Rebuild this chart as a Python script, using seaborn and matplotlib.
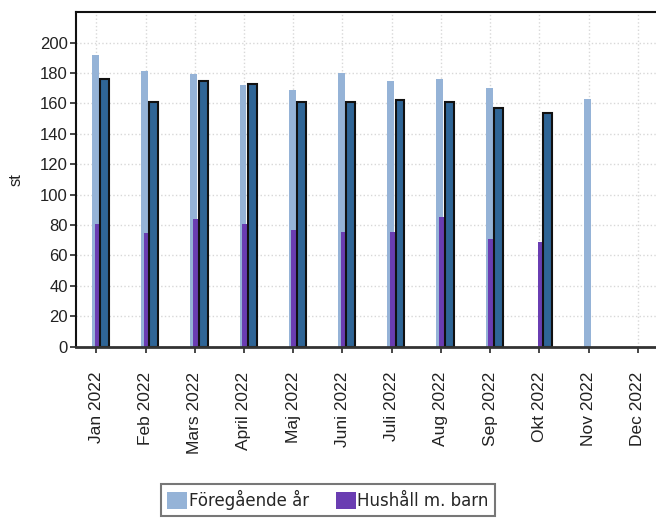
import numpy as np
import pandas as pd
import seaborn as sns
import matplotlib.pyplot as plt
from matplotlib.patches import Patch

months = ["Jan 2022", "Feb 2022", "Mars 2022", "April 2022", "Maj 2022", "Juni 2022",
          "Juli 2022", "Aug 2022", "Sep 2022", "Okt 2022", "Nov 2022", "Dec 2022"]
foregaende_ar = [192, 181, 179, 172, 169, 180, 175, 176, 170, np.nan, 163, np.nan]
totalt = [176, 161, 175, 173, 161, 161, 162, 161, 157, 153.5, np.nan, np.nan]
hushall_barn = [81, 74.5, 84, 81, 77, 75.5, 75.5, 85, 71, 69, np.nan, np.nan]

df = pd.DataFrame({"month": months, "prev": foregaende_ar,
                   "total": totalt, "barn": hushall_barn})
df["pos"] = np.arange(len(months))

sns.set_theme(style="ticks")
plt.rcParams['font.family'] = ['Liberation Sans', 'DejaVu Sans']

c_prev = "#95b3d7"
c_barn = "#6a3db2"
c_total = "#2f6596"

fig = plt.figure(figsize=(6.56, 5.27), dpi=100)
ax = fig.add_axes([0.116, 0.342, 0.884, 0.635])

# light blue (previous year), purple (households with children), dark (total)
sub = df.dropna(subset=["prev"])
sns.barplot(x=sub["pos"] - 0.02, y=sub["prev"], native_scale=True, width=0.14,
            color=c_prev, saturation=1, linewidth=0, ax=ax)
sub = df.dropna(subset=["barn"])
sns.barplot(x=sub["pos"] + 0.02, y=sub["barn"], native_scale=True, width=0.11,
            color=c_barn, saturation=1, linewidth=0, ax=ax)
sub = df.dropna(subset=["total"])
sns.barplot(x=sub["pos"] + 0.17, y=sub["total"], native_scale=True, width=0.18,
            color=c_total, saturation=1, edgecolor="#111111", linewidth=1.5, ax=ax)

ax.set_xlim(-0.41, 11.37)
ax.set_ylim(0, 220)
ax.set_yticks(range(0, 201, 20))
ax.set_xticks(df["pos"])
ax.set_xticklabels(months, rotation=90, fontsize=12.5, color="#222222")
ax.tick_params(axis="y", labelsize=12, labelcolor="#222222", length=4, width=1.2, pad=2)
ax.tick_params(axis="x", length=4, width=1.2, pad=14)
ax.set_xlabel("")
ax.set_ylabel("st", fontsize=12, color="#222222", labelpad=12)

ax.grid(True, linestyle=":", color="#d8d8d8", linewidth=1)
ax.set_axisbelow(True)
for side in ["left", "top"]:
    ax.spines[side].set_color("#111111")
    ax.spines[side].set_linewidth(1.5)
ax.spines["bottom"].set_color("#333333")
ax.spines["bottom"].set_linewidth(2)
ax.spines["right"].set_visible(False)

handles = [Patch(facecolor=c_prev, edgecolor="none"),
           Patch(facecolor=c_barn, edgecolor="none")]
leg = fig.legend(handles, ["Föregående år", "Hushåll m. barn"], loc="lower center",
                 bbox_to_anchor=(0.5, 0.005), ncol=2, frameon=True, fancybox=False,
                 shadow=False, handlelength=1.2, handleheight=1.2, handletextpad=0.1,
                 columnspacing=1.6, borderpad=0.35,
                 prop={"family": "DejaVu Sans", "size": 12})
leg.get_frame().set_edgecolor("#555555")
leg.get_frame().set_linewidth(1.5)

fig.savefig("out.png", dpi=100)
